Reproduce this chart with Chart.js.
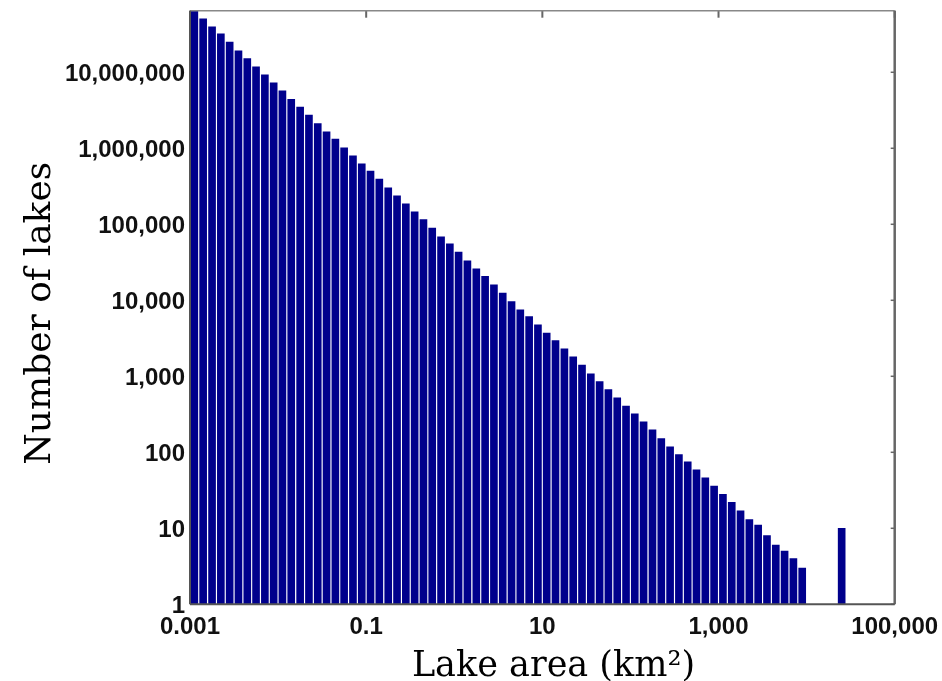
<!DOCTYPE html>
<html>
<head>
<meta charset="utf-8">
<script src="https://cdn.jsdelivr.net/npm/chart.js@4.4.1/dist/chart.umd.min.js"></script>
<style>
  body { margin: 0; background: #fff; }
</style>
</head>
<body>
<canvas id="lakeChart" width="942" height="681"></canvas>
<script>
// bin centres (km2), 10 bins per decade, plus the one big lake on its own
const binCentres = [
  0.00112, 0.00141, 0.00178, 0.00224, 0.00282, 0.00355, 0.00447, 0.00562, 0.00708, 0.00891,
  0.0112, 0.0141, 0.0178, 0.0224, 0.0282, 0.0355, 0.0447, 0.0562, 0.0708, 0.0891,
  0.112, 0.141, 0.178, 0.224, 0.282, 0.355, 0.447, 0.562, 0.708, 0.891,
  1.12, 1.41, 1.78, 2.24, 2.82, 3.55, 4.47, 5.62, 7.08, 8.91,
  11.2, 14.1, 17.8, 22.4, 28.2, 35.5, 44.7, 56.2, 70.8, 89.1,
  112, 141, 178, 224, 282, 355, 447, 562, 708, 891,
  1122, 1413, 1778, 2239, 2818, 3548, 4467, 5623, 7079, 8913,
  25000
];

const lakeCounts = [
  68000000, 50600000, 39700000, 32100000, 24900000, 19200000, 15100000, 11800000, 9270000, 7280000,
  5710000, 4390000, 3480000, 2740000, 2120000, 1650000, 1320000, 1016000, 796000, 625000,
  501000, 393000, 302000, 237000, 186000, 146000, 115000, 89100, 68500, 55400,
  43100, 33100, 26000, 20600, 16000, 12400, 9640, 7500, 6120, 4760,
  3700, 2960, 2300, 1810, 1400, 1080, 855, 670, 521, 405,
  321, 252, 198, 152, 118, 93, 75, 59, 46, 36,
  28, 22, 17, 13, 11, 8, 6, 5, 4, 3,
  10
];

const xTicks = [0.001, 0.1, 10, 1000, 100000];
const yTicks = [1, 10, 100, 1000, 10000, 100000, 1000000, 10000000];

const tickFont = { family: "'Liberation Sans', Arial, sans-serif", size: 24, weight: 'bold' };
const titleFamily = "'DejaVu Serif', serif";

// matlab style box with the little inner ticks on top and right
const frame = {
  id: 'frame',
  afterDatasetsDraw(chart) {
    const { ctx, chartArea: a, scales } = chart;
    ctx.save();
    ctx.strokeStyle = '#666';
    ctx.lineWidth = 2;
    xTicks.forEach(v => {
      const px = scales.x.getPixelForValue(v);
      ctx.beginPath();
      ctx.moveTo(px, a.top);
      ctx.lineTo(px, a.top + 7);
      ctx.stroke();
    });
    ctx.lineWidth = 1.5;
    yTicks.forEach(v => {
      const py = scales.y.getPixelForValue(v);
      ctx.beginPath();
      ctx.moveTo(a.right, py);
      ctx.lineTo(a.right - 4, py);
      ctx.stroke();
    });
    ctx.strokeStyle = '#888';
    ctx.lineWidth = 1.5;
    ctx.beginPath();
    ctx.moveTo(a.left, a.top);
    ctx.lineTo(a.right, a.top);
    ctx.stroke();
    ctx.strokeStyle = '#666';
    ctx.lineWidth = 2.5;
    ctx.beginPath();
    ctx.moveTo(a.right, a.top);
    ctx.lineTo(a.right, a.bottom);
    ctx.stroke();
    ctx.strokeStyle = '#555';
    ctx.lineWidth = 2;
    ctx.beginPath();
    ctx.moveTo(a.left, a.bottom);
    ctx.lineTo(a.right, a.bottom);
    ctx.moveTo(a.left, a.top);
    ctx.lineTo(a.left, a.bottom);
    ctx.stroke();
    ctx.restore();
  }
};

new Chart(document.getElementById('lakeChart'), {
  type: 'bar',
  data: {
    datasets: [{
      label: 'Number of lakes',
      data: binCentres.map((x, i) => ({ x: x, y: lakeCounts[i] })),
      backgroundColor: '#00008c',
      borderWidth: 0,
      barThickness: 7
    }]
  },
  options: {
    responsive: false,
    animation: false,
    layout: { padding: { top: 10.7, right: 47.3, left: 0, bottom: 0 } },
    plugins: {
      legend: { display: false },
      tooltip: { enabled: false }
    },
    scales: {
      x: {
        type: 'logarithmic',
        min: 0.001,
        max: 100000,
        offset: false,
        grid: { display: false, drawTicks: false },
        border: { display: false },
        afterBuildTicks: s => { s.ticks = xTicks.map(v => ({ value: v })); },
        afterFit: s => { s.height = 76.7; s.paddingLeft = 0; s.paddingRight = 0; },
        ticks: {
          autoSkip: false,
          maxRotation: 0,
          padding: 9,
          color: '#111',
          font: tickFont,
          callback: v => Number(v).toLocaleString('en-US', { maximumFractionDigits: 3 })
        },
        title: {
          display: true,
          text: '  Lake area (km²)',   // leading spaces nudge it right like the original
          color: '#000',
          font: { family: titleFamily, size: 35 },
          padding: { top: 0, bottom: -7 }
        }
      },
      y: {
        type: 'logarithmic',
        min: 1,
        max: 64600000,
        grid: { display: false, drawTicks: false },
        border: { display: false },
        afterBuildTicks: s => { s.ticks = yTicks.map(v => ({ value: v })); },
        afterFit: s => { s.width = 190; s.paddingTop = 0; s.paddingBottom = 0; },
        ticks: {
          autoSkip: false,
          padding: 5,
          labelOffset: 2,
          color: '#111',
          font: tickFont,
          callback: v => Number(v).toLocaleString('en-US')
        },
        title: {
          display: true,
          text: 'Number of lakes ',
          color: '#000',
          font: { family: titleFamily, size: 36 },
          padding: { top: 19, bottom: 0 }
        }
      }
    }
  },
  plugins: [frame]
});
</script>
</body>
</html>
